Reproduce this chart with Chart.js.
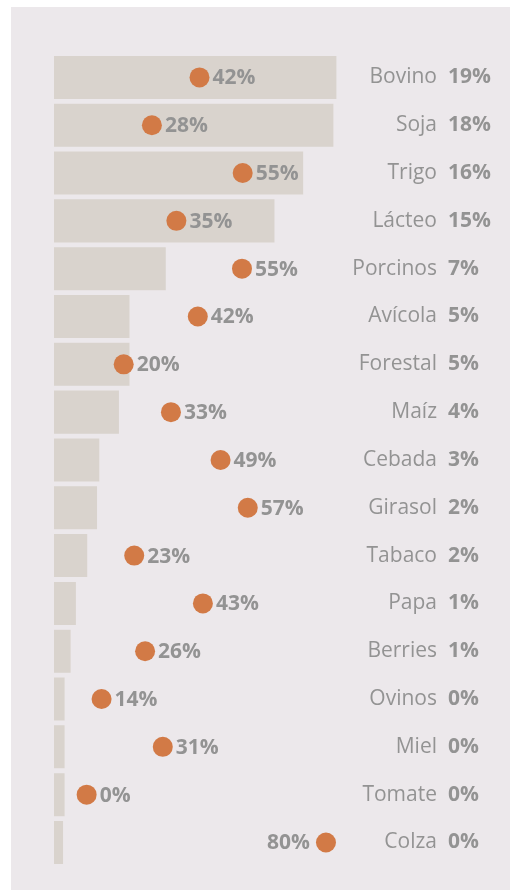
<!DOCTYPE html>
<html lang="es">
<head>
<meta charset="utf-8">
<script src="https://cdn.jsdelivr.net/npm/chart.js@4.4.1/dist/chart.umd.min.js"></script>
<style>
  html, body { margin: 0; padding: 0; background: #fff; }
  #panel { position: absolute; left: 11px; top: 7px; width: 499px; height: 883px; background: #ece8eb; }
</style>
</head>
<body>
<div id="panel"><canvas id="chart" width="499" height="883"></canvas></div>
<script>
// Datos
const productos = ['Bovino','Soja','Trigo','Lácteo','Porcinos','Avícola','Forestal','Maíz','Cebada','Girasol','Tabaco','Papa','Berries','Ovinos','Miel','Tomate','Colza'];
// largo de barra (participación, %)
const participacion = [18.7, 18.5, 16.5, 14.6, 7.4, 5.0, 5.0, 4.3, 3.0, 2.85, 2.2, 1.45, 1.1, 0.7, 0.7, 0.7, 0.6];
const participacionTxt = ['19%','18%','16%','15%','7%','5%','5%','4%','3%','2%','2%','1%','1%','0%','0%','0%','0%'];
// posición de los puntos (%)
const indicador = [42.8, 28.8, 55.5, 36, 55.3, 42.3, 20.5, 34.4, 49, 57, 23.6, 43.8, 26.8, 14, 32, 9.6, 80];
const indicadorTxt = ['42%','28%','55%','35%','55%','42%','20%','33%','49%','57%','23%','43%','26%','14%','31%','0%','80%'];

const GRIS = '#939393';
const FUENTE = '"Open Sans", "Noto Sans", sans-serif';

// etiquetas junto a cada punto
const etiquetasPuntos = {
  id: 'etiquetasPuntos',
  afterDatasetsDraw(chart){
    const meta = chart.getDatasetMeta(1);
    const ctx = chart.ctx;
    ctx.save();
    ctx.font = 'bold 21px ' + FUENTE;
    ctx.fillStyle = GRIS;
    ctx.textBaseline = 'middle';
    meta.data.forEach((pt, i)=>{
      const izq = indicador[i] > 70;
      ctx.textAlign = izq ? 'right' : 'left';
      ctx.fillText(indicadorTxt[i], izq ? pt.x - 16 : pt.x + 13, pt.y + 1);
    });
    ctx.restore();
  }
};

new Chart(document.getElementById('chart'), {
  type: 'bar',
  data: {
    labels: productos,
    datasets: [
      {
        data: participacion,
        backgroundColor: '#d9d3cd',
        categoryPercentage: 1,
        barPercentage: 0.9,
        xAxisID: 'x',
        yAxisID: 'y',
        order: 2
      },
      {
        type: 'scatter',
        data: indicador.map((v, i)=> ({ x: v, y: productos[i] })),
        xAxisID: 'x2',
        yAxisID: 'y',
        pointRadius: 10,
        pointHoverRadius: 10,
        backgroundColor: '#d27a46',
        borderWidth: 0,
        order: 1
      }
    ]
  },
  options: {
    indexAxis: 'y',
    responsive: false,
    animation: false,
    layout: { padding: { left: 43, top: 46.5, bottom: 21.7, right: 0 } },
    plugins: { legend: { display: false }, tooltip: { enabled: false } },
    scales: {
      x: { type: 'linear', display: false, min: 0, max: 19.27 },
      x2: { type: 'linear', axis: 'x', display: false, min: 0, max: 85.6 },
      y: {
        position: 'right',
        grid: { display: false, drawTicks: false },
        border: { display: false },
        afterFit: s => { s.width = 92; },
        ticks: { crossAlign: 'far', padding: 8, autoSkip: false, color: GRIS, font: { family: FUENTE, size: 21 } }
      },
      y2: {
        type: 'category',
        axis: 'y',
        labels: participacionTxt,
        position: 'right',
        grid: { display: false, drawTicks: false },
        border: { display: false },
        afterFit: s => { s.width = 73; },
        ticks: { padding: 11, autoSkip: false, color: GRIS, font: { family: FUENTE, size: 21, weight: 'bold' } }
      }
    }
  },
  plugins: [etiquetasPuntos]
});
</script>
</body>
</html>
